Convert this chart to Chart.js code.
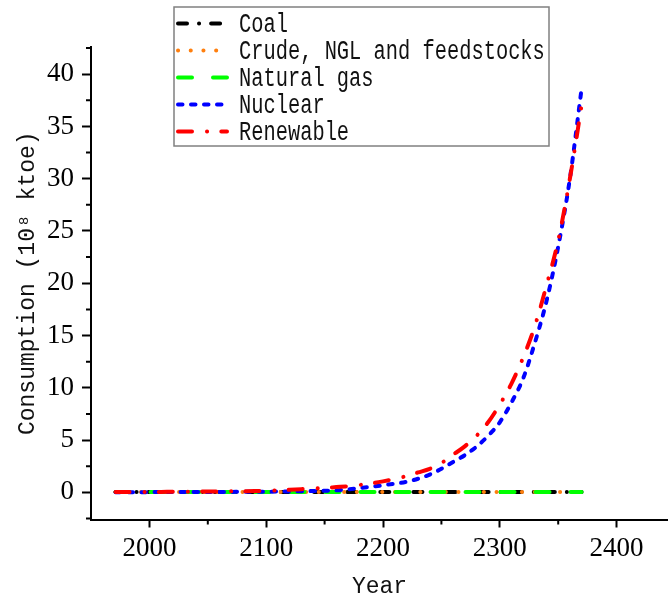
<!DOCTYPE html>
<html>
<head>
<meta charset="utf-8">
<script src="https://cdn.jsdelivr.net/npm/chart.js@4/dist/chart.umd.min.js"></script>
<style>
html, body { margin: 0; padding: 0; background: #fff; overflow: hidden; }
</style>
</head>
<body>
<canvas id="chart" width="668" height="604"></canvas>
<script>
'use strict';

// years on the x axis
const years = [1971, 1980, 1990, 2000, 2010, 2020, 2030, 2040, 2050, 2060,
  2070, 2080, 2090, 2100, 2110, 2120, 2130, 2140, 2150, 2160,
  2170, 2180, 2190, 2200, 2210, 2220, 2230, 2240, 2250, 2260,
  2270, 2280, 2290, 2300, 2310, 2320, 2330, 2340, 2350, 2360, 2370];

// consumption, 10^8 ktoe
const coal = [0.03, 0.03, 0.03, 0.03, 0.03, 0.03, 0.03, 0.03, 0.03, 0.03,
  0.03, 0.03, 0.03, 0.03, 0.03, 0.02, 0.02, 0.02, 0.02, 0.02,
  0.02, 0.02, 0.02, 0.02, 0.02, 0.02, 0.02, 0.02, 0.02, 0.02,
  0.02, 0.02, 0.02, 0.02, 0.02, 0.02, 0.02, 0.02, 0.02, 0.02, 0.02];
const crude = [0.03, 0.03, 0.03, 0.03, 0.03, 0.03, 0.03, 0.03, 0.03, 0.03,
  0.03, 0.03, 0.03, 0.03, 0.03, 0.03, 0.03, 0.03, 0.03, 0.03,
  0.03, 0.03, 0.03, 0.03, 0.03, 0.03, 0.03, 0.03, 0.03, 0.03,
  0.03, 0.03, 0.03, 0.03, 0.03, 0.03, 0.03, 0.03, 0.03, 0.03, 0.03];
const gas = [0.02, 0.02, 0.02, 0.02, 0.02, 0.02, 0.02, 0.02, 0.02, 0.02,
  0.02, 0.02, 0.02, 0.02, 0.02, 0.02, 0.02, 0.02, 0.02, 0.02,
  0.02, 0.02, 0.02, 0.02, 0.02, 0.02, 0.02, 0.02, 0.02, 0.02,
  0.02, 0.02, 0.02, 0.02, 0.02, 0.02, 0.02, 0.02, 0.02, 0.02, 0.02];
const nuclear = [0.01, 0.01, 0.01, 0.02, 0.02, 0.02, 0.03, 0.03, 0.03, 0.04,
  0.04, 0.05, 0.05, 0.06, 0.07, 0.08, 0.1, 0.12, 0.15, 0.19,
  0.28, 0.4, 0.53, 0.68, 0.82, 1.0, 1.3, 1.7, 2.25, 2.9,
  3.55, 4.36, 5.4, 6.7, 8.6, 10.9, 14.3, 18.3, 23.5, 30.0, 38.6];
const renewable = [0.02, 0.02, 0.03, 0.03, 0.04, 0.05, 0.06, 0.07, 0.08, 0.09,
  0.1, 0.11, 0.12, 0.14, 0.18, 0.24, 0.3, 0.36, 0.42, 0.5,
  0.58, 0.7, 0.85, 1.05, 1.28, 1.55, 1.9, 2.25, 2.8, 3.6,
  4.4, 5.4, 6.7, 8.4, 10.4, 12.9, 15.9, 19.8, 24.1, 30.0, 37.0];

const seriesNames = ['Coal', 'Crude, NGL and feedstocks', 'Natural gas', 'Nuclear', 'Renewable'];

// tick labels
const xTicks = [2000, 2100, 2200, 2300, 2400];
const xMinor = [2050, 2150, 2250, 2350];
const yTicks = [0, 5, 10, 15, 20, 25, 30, 35, 40];
const yMinor = [-2.5, 2.5, 7.5, 12.5, 17.5, 22.5, 27.5, 32.5, 37.5, 42.5];

function pts(vals) {
  return years.map((yr, i) => ({ x: yr, y: vals[i] }));
}

function line(label, vals, color, dash, order) {
  return {
    label: label,
    data: pts(vals),
    borderColor: color,
    borderWidth: 4,
    borderDash: dash,
    borderCapStyle: 'round',
    pointRadius: 0,
    cubicInterpolationMode: 'monotone',
    fill: false,
    order: order
  };
}

// small outward ticks between the labelled ones
const minorTicks = {
  id: 'minorTicks',
  afterDraw(chart) {
    const ctx = chart.ctx;
    const xs = chart.scales.x, ys = chart.scales.y;
    ctx.save();
    ctx.strokeStyle = '#000';
    ctx.lineWidth = 2;
    ctx.beginPath();
    xMinor.forEach(v => {
      const px = xs.getPixelForValue(v);
      ctx.moveTo(px, xs.top);
      ctx.lineTo(px, xs.top + 5);
    });
    yMinor.forEach(v => {
      const py = ys.getPixelForValue(v);
      ctx.moveTo(ys.right, py);
      ctx.lineTo(ys.right - 5, py);
    });
    ctx.stroke();
    ctx.restore();
  }
};

// legend in a framed box
const boxLegend = {
  id: 'boxLegend',
  afterDraw(chart) {
    const ctx = chart.ctx;
    ctx.save();
    ctx.fillStyle = '#fff';
    ctx.strokeStyle = '#808080';
    ctx.lineWidth = 1.5;
    ctx.fillRect(174, 7, 375, 139);
    ctx.strokeRect(174, 7, 375, 139);
    chart.data.datasets.forEach((ds, i) => {
      const y = 23.5 + i * 27;
      ctx.setLineDash(ds.borderDash);
      ctx.lineCap = 'round';
      ctx.strokeStyle = ds.borderColor;
      ctx.lineWidth = ds.borderWidth;
      ctx.beginPath();
      ctx.moveTo(178, y);
      ctx.lineTo(227, y);
      ctx.stroke();
      ctx.setLineDash([]);
      ctx.save();
      ctx.translate(239, y + 1);
      ctx.scale(0.755, 1);
      ctx.font = '27px "Liberation Mono"';
      ctx.fillStyle = '#111';
      ctx.textBaseline = 'middle';
      ctx.fillText(ds.label, 0, 0);
      ctx.restore();
    });
    ctx.restore();
  }
};

const tickFont = { family: '"Liberation Serif", serif', size: 27 };
const titleFont = { family: '"Liberation Mono", monospace', size: 23 };

const config = {
  type: 'line',
  data: {
    datasets: [
      line(seriesNames[0], coal, '#000000', [9, 12, 0.1, 12], 4),
      line(seriesNames[1], crude, '#ff7f0e', [0.1, 12.6], 3),
      line(seriesNames[2], gas, '#00ff00', [14, 21], 2),
      line(seriesNames[3], nuclear, '#0000ff', [4.5, 8.5], 1),
      line(seriesNames[4], renewable, '#ff0000', [14, 15, 0.1, 14.2], 0)
    ]
  },
  options: {
    responsive: false,
    animation: false,
    devicePixelRatio: 1,
    layout: { padding: { top: 47, right: 0, left: 0, bottom: 0 } },
    plugins: { legend: { display: false }, tooltip: { enabled: false } },
    scales: {
      x: {
        type: 'linear',
        min: 1950,
        max: 2444,
        afterBuildTicks: s => { s.ticks = xTicks.map(v => ({ value: v })); },
        afterFit: s => { s.height = 84.5; },
        grid: { drawOnChartArea: false, drawTicks: true, tickLength: 8, tickWidth: 2, tickColor: '#000' },
        border: { display: true, color: '#000', width: 2 },
        ticks: { font: tickFont, color: '#000', padding: 5, maxRotation: 0, autoSkip: false, callback: v => String(v) },
        title: { display: true, text: 'Year', font: titleFont, color: '#111', padding: { top: 3, bottom: 3 } }
      },
      y: {
        type: 'linear',
        min: -2.6,
        max: 42.6,
        afterBuildTicks: s => { s.ticks = yTicks.map(v => ({ value: v })); },
        afterFit: s => { s.width = 91; },
        grid: { drawOnChartArea: false, drawTicks: true, tickLength: 9, tickWidth: 2, tickColor: '#000' },
        border: { display: true, color: '#000', width: 2 },
        ticks: { font: tickFont, color: '#000', padding: 8, autoSkip: false, callback: v => String(v) },
        title: { display: true, text: 'Consumption (10⁸ ktoe)', font: titleFont, color: '#111', padding: { top: 14, bottom: 14 } }
      }
    }
  },
  plugins: [minorTicks, boxLegend]
};

const chart = new Chart(document.getElementById('chart'), config);
</script>
</body>
</html>
